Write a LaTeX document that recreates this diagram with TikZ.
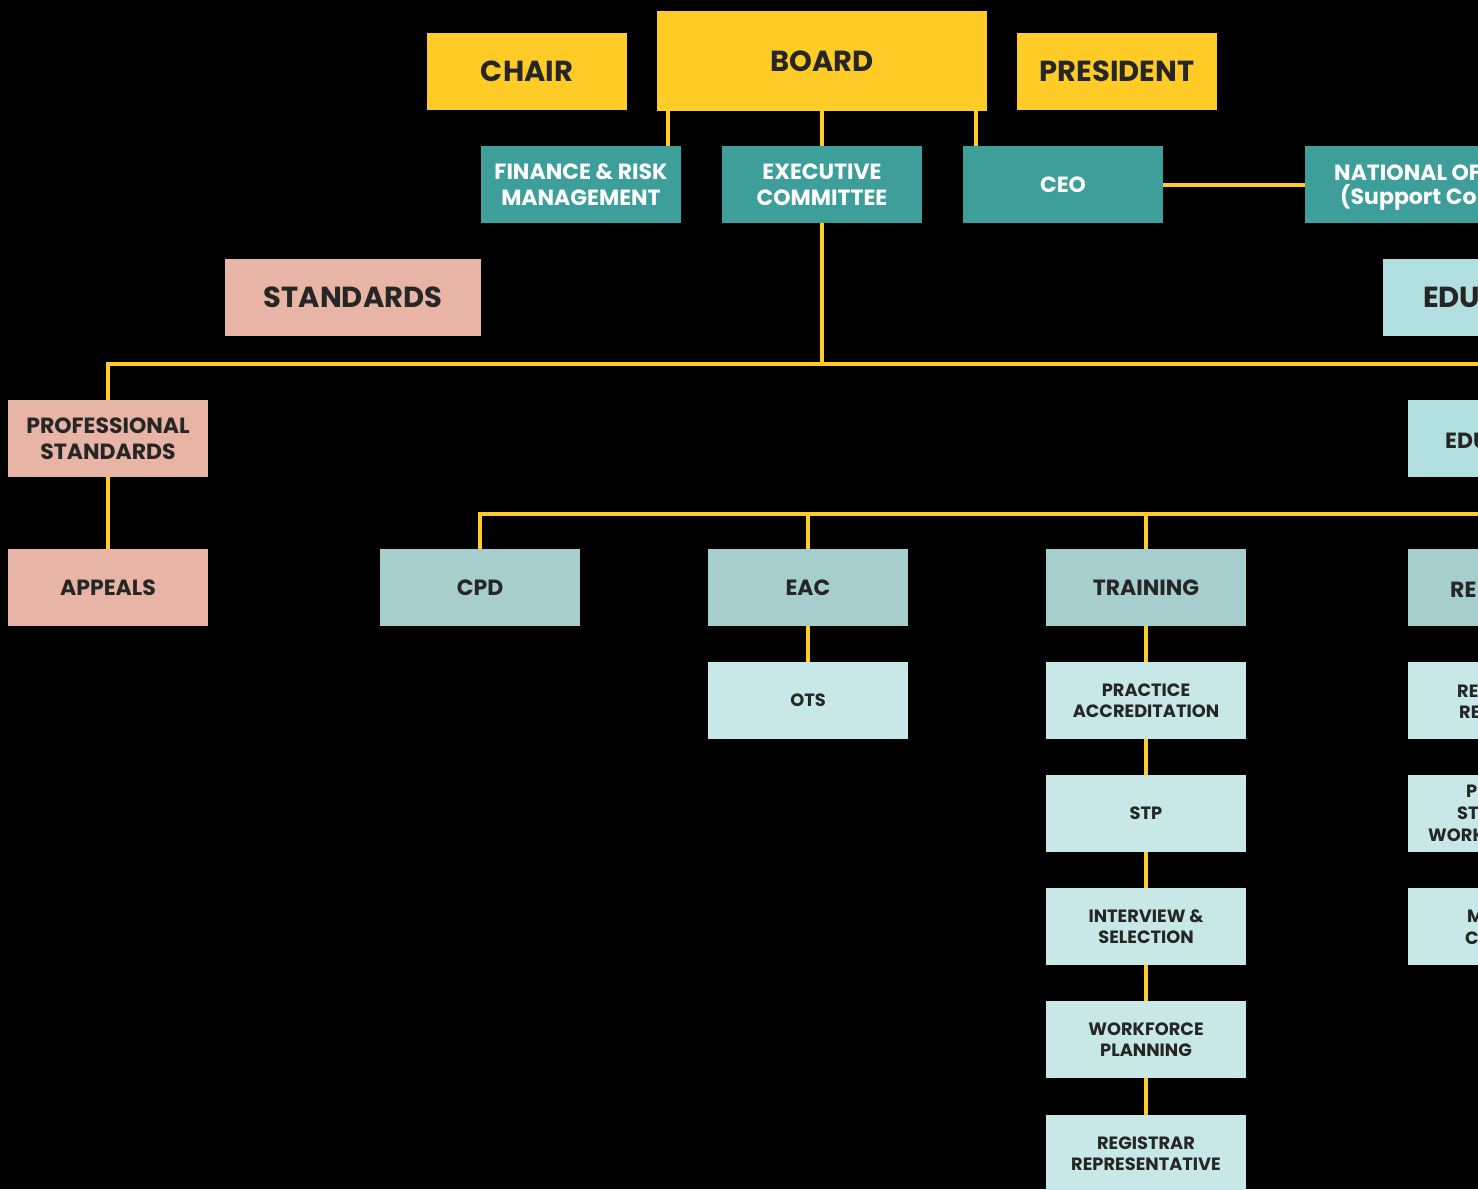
\documentclass[tikz,border=0pt]{standalone}
\usepackage{fontspec}
\setmainfont{Poppins}
\usetikzlibrary{positioning}
\definecolor{gold}{HTML}{FFCB27}
\definecolor{teal}{HTML}{3D9E9A}
\definecolor{rose}{HTML}{E8B4A6}
\definecolor{aqua}{HTML}{B2DFDF}
\definecolor{sage}{HTML}{A6CECC}
\definecolor{mist}{HTML}{C8E8E8}
\definecolor{ink}{HTML}{262626}
\newcommand{\bigtxt}{\fontsize{29}{32}\selectfont\bfseries}
\newcommand{\midtxt}{\fontsize{22}{26}\selectfont\bfseries}
\newcommand{\smltxt}{\fontsize{17.8}{21.5}\selectfont\bfseries}

\begin{document}
\begin{tikzpicture}[x=1pt,y=-1pt,
    box/.style={minimum width=200pt,minimum height=77pt,inner sep=0pt,align=center,text=ink},
    top/.style={box,fill=gold,font=\bigtxt},
    dark/.style={box,fill=teal,text=white,font=\midtxt},
    pink/.style={box,fill=rose,font=\midtxt},
    edu/.style={box,fill=aqua,font=\midtxt},
    mid/.style={box,fill=sage,font=\midtxt},
    pale/.style={box,fill=mist,font=\smltxt},
    frag/.style={anchor=base west,inner sep=0pt,text=ink,font=\smltxt}]
            \useasboundingbox (0,0) rectangle (1478,1189);
            \clip (0,0) rectangle (1478,1189);
            \fill[black] (0,0) rectangle (1478,1189);

            \node[top]                                           (chair) at (527,71.5)   {CHAIR};
            \node[top,minimum width=330pt,minimum height=100pt]  (board) at (822,61)     {BOARD};
            \node[top]                                           (pres)  at (1117,71.5)  {PRESIDENT};

            \node[dark] (fin)  at (581,184.5)  {FINANCE \& RISK\\MANAGEMENT};
            \node[dark] (exec) at (822,184.5)  {EXECUTIVE\\COMMITTEE};
            \node[dark] (ceo)  at (1063,184.5) {CEO};
            \node[dark,anchor=west] (natl) at (1305,184.5) {};
            \node[frag,text=white,font=\midtxt] (natl1) at (1334,180) {NATIONAL OF};
            \node[frag,text=white,font=\midtxt] (natl2) at (1340,204) {(Support Co};

            \node[pink,minimum width=256pt,font=\bigtxt] (std) at (353,297.5) {STANDARDS};
            \node[edu,anchor=west] (edu1) at (1383,297.5) {};
            \node[frag,font=\bigtxt] (edu1t) at (1423,307) {EDU};

            \node[pink] (prof)    at (108,438.5) {PROFESSIONAL\\STANDARDS};
            \node[pink] (appeals) at (108,587.5) {APPEALS};
            \node[edu,anchor=west] (edu2) at (1408,438.5) {};
            \node[frag,font=\midtxt] (edu2t) at (1445,448) {EDU};

            \node[mid] (cpd)   at (480,587.5)  {CPD};
            \node[mid] (eac)   at (808,587.5)  {EAC};
            \node[mid] (train) at (1146,587.5) {TRAINING};
            \node[mid,anchor=west] (re) at (1408,587.5) {};
            \node[frag,font=\midtxt] (ret) at (1450,597) {RE};

            \node[pale] (ots)  at (808,700.5)   {OTS};
            \node[pale] (prac) at (1146,700.5)  {PRACTICE\\ACCREDITATION};
            \node[pale] (stp)  at (1146,813.5)  {STP};
            \node[pale] (intv) at (1146,926.5)  {INTERVIEW \&\\SELECTION};
            \node[pale] (work) at (1146,1039.5) {WORKFORCE\\PLANNING};
            \node[pale] (reg)  at (1146,1153.5) {REGISTRAR\\REPRESENTATIVE};

            \node[pale,anchor=west] (rea) at (1408,700.5) {};
            \node[frag] (rea1) at (1457,697) {RE};
            \node[frag] (rea2) at (1459,718) {RE};
            \node[pale,anchor=west] (rep) at (1408,813.5) {};
            \node[frag] (rep1) at (1466,797) {P};
            \node[frag] (rep2) at (1457,819) {ST};
            \node[frag] (rep3) at (1428,841) {WORK};
            \node[pale,anchor=west] (rem) at (1408,926.5) {};
            \node[frag] (rem1) at (1467,922) {M};
            \node[frag] (rem2) at (1465,944) {C};

            \coordinate (bus1) at (822,364);
            \coordinate (bus1e) at (1478,364);
            \coordinate (bus2e) at (1478,514);

            \begin{scope}[gold,line width=4pt]
                \draw ([xshift=11pt]board.south west)  -- ([xshift=11pt]board.south west |- fin.north);
                \draw (board.south) -- (exec.north);
                \draw ([xshift=-11pt]board.south east) -- ([xshift=-11pt]board.south east |- ceo.north);
                \draw (ceo.east) -- (natl.west);
                \draw (exec.south) -- (bus1);
                \draw (prof.north) |- (bus1e);
                \draw (prof.south) -- (appeals.north);
                \draw (cpd.north) |- (bus2e);
                \draw (eac.north) -- (eac.north |- bus2e);
                \draw (train.north) -- (train.north |- bus2e);
                \draw (eac.south) -- (ots.north);
                \draw (train.south) -- (prac.north);
                \draw (prac.south) -- (stp.north);
                \draw (stp.south) -- (intv.north);
                \draw (intv.south) -- (work.north);
                \draw (work.south) -- (reg.north);
            \end{scope}
        \end{tikzpicture}
\end{document}
